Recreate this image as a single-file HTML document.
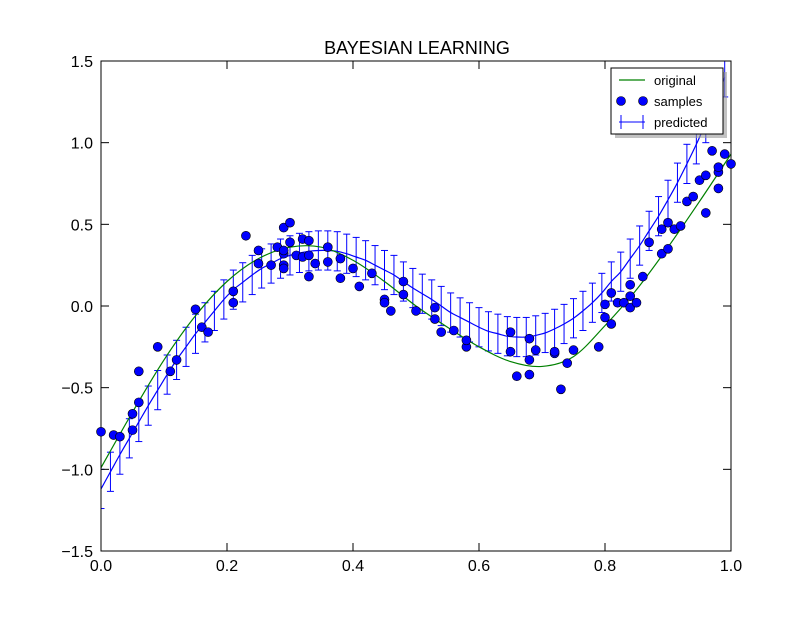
<!DOCTYPE html>
<html><head><meta charset="utf-8"><style>
body{margin:0;background:#fff;}
svg text{font-family:"Liberation Sans",sans-serif;}
</style></head><body>
<svg id="chart" width="812" height="612" xmlns="http://www.w3.org/2000/svg">
<rect width="812" height="612" fill="#fff"/>
<text x="417" y="54" font-size="18" text-anchor="middle">BAYESIAN LEARNING</text>
<g id="plot"></g>
<rect x="101" y="61" width="630" height="490" fill="none" stroke="#000" stroke-width="1"/>
<g id="ticks"></g>
<g>
<rect x="615" y="72" width="112" height="66" fill="#999" opacity="0.6"/>
<rect x="611" y="68" width="112" height="66" fill="#fff" stroke="#000"/>
<g>
<line x1="619" y1="80" x2="645" y2="80" stroke="#008000" stroke-width="1.2"/>
<text x="654" y="85" font-size="13">original</text></g>
<g>
<circle cx="621" cy="101" r="4.5" fill="#0000ff" stroke="#000" stroke-width="0.6"/>
<circle cx="643" cy="101" r="4.5" fill="#0000ff" stroke="#000" stroke-width="0.6"/>
<text x="654" y="106" font-size="13">samples</text></g>
<g>
<line x1="619" y1="122" x2="645" y2="122" stroke="#0000ff"/>
<line x1="621" y1="115" x2="621" y2="129" stroke="#0000ff"/>
<line x1="643" y1="115" x2="643" y2="129" stroke="#0000ff"/>
<text x="654" y="127" font-size="13">predicted</text></g>
</g>
</svg>
<script>
const xTicks=[0,0.2,0.4,0.6,0.8,1.0];
const xTickLabels=["0.0","0.2","0.4","0.6","0.8","1.0"];
const yTicks=[-1.5,-1.0,-0.5,0,0.5,1.0,1.5];
const yTickLabels=["\u22121.5","\u22121.0","\u22120.5","0.0","0.5","1.0","1.5"];
const origX=[0,0.05,0.1,0.15,0.2,0.25,0.3,0.35,0.4,0.45,0.5,0.55,0.6,0.65,0.7,0.75,0.8,0.85,0.9,0.95,1.0];
const origY=[-0.99,-0.65,-0.33,-0.06,0.15,0.29,0.36,0.36,0.28,0.15,0.0,-0.13,-0.25,-0.34,-0.37,-0.31,-0.12,0.10,0.36,0.64,0.93];
const predX=[0,0.015,0.03,0.045,0.06,0.075,0.09,0.105,0.12,0.135,0.15,0.165,0.18,0.195,0.21,0.225,0.24,0.255,0.27,0.285,0.30,0.315,0.33,0.345,0.36,0.375,0.39,0.405,0.42,0.435,0.45,0.465,0.48,0.495,0.51,0.525,0.54,0.555,0.57,0.585,0.60,0.615,0.63,0.645,0.66,0.675,0.69,0.705,0.72,0.735,0.75,0.765,0.78,0.795,0.81,0.825,0.84,0.855,0.87,0.885,0.90,0.915,0.93,0.945,0.96,0.975,0.99];
const predY=[-1.12,-1.015,-0.91,-0.81,-0.71,-0.61,-0.515,-0.42,-0.33,-0.25,-0.17,-0.10,-0.03,0.04,0.10,0.145,0.19,0.23,0.26,0.29,0.31,0.325,0.335,0.34,0.34,0.335,0.32,0.30,0.28,0.25,0.22,0.19,0.15,0.11,0.075,0.04,0.0,-0.04,-0.07,-0.10,-0.13,-0.155,-0.17,-0.185,-0.19,-0.19,-0.18,-0.165,-0.14,-0.11,-0.075,-0.03,0.02,0.08,0.15,0.21,0.29,0.37,0.46,0.55,0.65,0.755,0.87,0.99,1.12,1.25,1.40];
const predErr=0.12;
const sampleX=[0.00,0.02,0.03,0.05,0.05,0.06,0.06,0.09,0.11,0.12,0.15,0.16,0.17,0.21,0.21,0.23,0.25,0.25,0.27,0.28,0.29,0.29,0.29,0.29,0.29,0.30,0.30,0.31,0.32,0.32,0.33,0.33,0.33,0.34,0.36,0.36,0.38,0.38,0.40,0.41,0.43,0.45,0.45,0.46,0.48,0.48,0.50,0.53,0.53,0.54,0.56,0.58,0.58,0.65,0.65,0.66,0.68,0.68,0.68,0.69,0.72,0.72,0.73,0.74,0.75,0.79,0.80,0.80,0.81,0.81,0.82,0.83,0.84,0.84,0.84,0.85,0.86,0.87,0.89,0.89,0.90,0.90,0.91,0.92,0.93,0.94,0.95,0.96,0.96,0.97,0.98,0.98,0.98,0.99,1.00];
const sampleY=[-0.77,-0.79,-0.80,-0.76,-0.66,-0.59,-0.40,-0.25,-0.40,-0.33,-0.02,-0.13,-0.16,0.09,0.02,0.43,0.26,0.34,0.25,0.36,0.48,0.32,0.25,0.23,0.34,0.51,0.39,0.31,0.41,0.30,0.40,0.18,0.31,0.26,0.36,0.27,0.17,0.29,0.23,0.12,0.20,0.04,0.02,-0.03,0.07,0.15,-0.03,-0.01,-0.08,-0.16,-0.15,-0.25,-0.21,-0.28,-0.16,-0.43,-0.42,-0.20,-0.33,-0.27,-0.29,-0.28,-0.51,-0.35,-0.27,-0.25,0.01,-0.07,-0.11,0.08,0.02,0.02,-0.01,0.13,0.06,0.02,0.18,0.39,0.47,0.32,0.35,0.51,0.47,0.49,0.64,0.67,0.77,0.57,0.80,0.95,0.72,0.82,0.85,0.93,0.87];

const X0=101,X1=731,Y0=551,Y1=61;
const sx=v=>X0+(v-0)/(1-0)*(X1-X0);
const sy=v=>Y0-(v+1.5)/3*(Y0-Y1);
const NS="http://www.w3.org/2000/svg";
function mk(tag,attrs,parent){const e=document.createElementNS(NS,tag);for(const k in attrs)e.setAttribute(k,attrs[k]);parent.appendChild(e);return e;}
const plot=document.getElementById('plot');
const ticks=document.getElementById('ticks');
const clip=mk('clipPath',{id:'clp'},document.getElementById('chart'));
mk('rect',{x:X0,y:Y1,width:X1-X0,height:Y0-Y1},clip);
plot.setAttribute('clip-path','url(#clp)');

function smoothPath(xs,ys){
  const p=xs.map((x,i)=>[sx(x),sy(ys[i])]);
  let d='M'+p[0][0]+','+p[0][1];
  for(let i=0;i<p.length-1;i++){
    const a=p[Math.max(i-1,0)],b=p[i],c=p[i+1],e=p[Math.min(i+2,p.length-1)];
    const c1=[b[0]+(c[0]-a[0])/6,b[1]+(c[1]-a[1])/6];
    const c2=[c[0]-(e[0]-b[0])/6,c[1]-(e[1]-b[1])/6];
    d+=' C'+c1[0]+','+c1[1]+' '+c2[0]+','+c2[1]+' '+c[0]+','+c[1];
  }
  return d;
}
predX.forEach((x,i)=>{
  const g=mk('g',{},plot);
  
  
  const px=sx(x),top=sy(predY[i]+predErr),bot=sy(predY[i]-predErr);
  mk('line',{x1:px,y1:top,x2:px,y2:bot,stroke:'#0000ff','stroke-width':1},g);
  mk('line',{x1:px-3.5,y1:top,x2:px+3.5,y2:top,stroke:'#0000ff','stroke-width':1},g);
  mk('line',{x1:px-3.5,y1:bot,x2:px+3.5,y2:bot,stroke:'#0000ff','stroke-width':1},g);
});
const pl=mk('path',{d:smoothPath(predX,predY),fill:'none',stroke:'#0000ff','stroke-width':1.2},plot);


const ol=mk('path',{d:smoothPath(origX,origY),fill:'none',stroke:'#008000','stroke-width':1.2},plot);


const sg=document.createElementNS(NS,'g');document.getElementById('chart').insertBefore(sg,document.getElementById('ticks'));
sampleX.forEach((x,i)=>{
  const c=mk('circle',{cx:sx(x),cy:sy(sampleY[i]),r:4.5,fill:'#0000ff',stroke:'#000','stroke-width':0.6},sg);
  
  
});
xTicks.forEach((v,i)=>{
  const px=sx(v);
  mk('line',{x1:px,y1:Y0,x2:px,y2:Y0-8,stroke:'#000'},ticks);
  mk('line',{x1:px,y1:Y1,x2:px,y2:Y1+8,stroke:'#000'},ticks);
  const t=mk('text',{x:px,y:Y0+20,'font-size':16,'text-anchor':'middle'},ticks);
  t.textContent=xTickLabels[i];
  
  
});
yTicks.forEach((v,i)=>{
  const py=sy(v);
  mk('line',{x1:X0,y1:py,x2:X0+8,y2:py,stroke:'#000'},ticks);
  mk('line',{x1:X1,y1:py,x2:X1-8,y2:py,stroke:'#000'},ticks);
  const t=mk('text',{x:X0-8,y:py+6,'font-size':16,'text-anchor':'end'},ticks);
  t.textContent=yTickLabels[i];
  
  
});
</script>
</body></html>
